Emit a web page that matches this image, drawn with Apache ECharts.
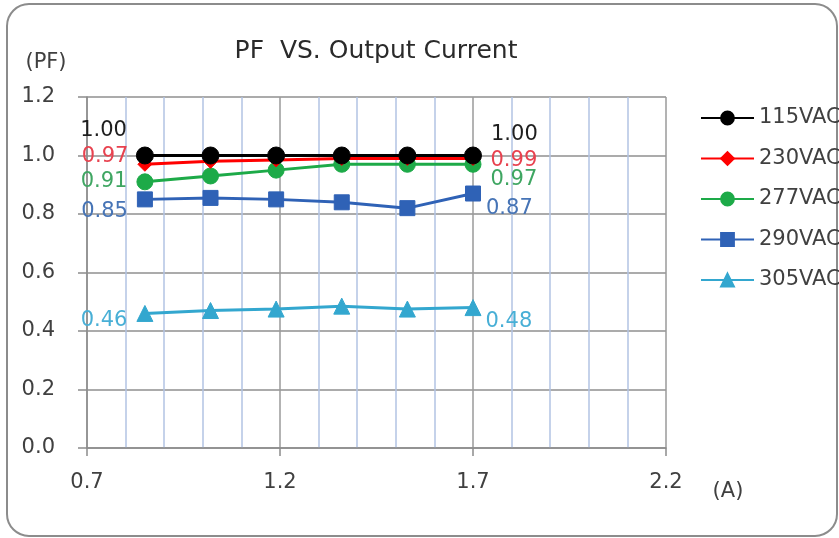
<!DOCTYPE html>
<html>
<head>
<meta charset="utf-8">
<script src="https://cdn.jsdelivr.net/npm/echarts@6/dist/echarts.min.js"></script>
<style>
html,body{margin:0;padding:0;background:#fff;}
#chart{width:839px;height:538px;}
</style>
</head>
<body>
<div id="chart"></div>
<script>
// ---- data ----
const currents = [0.85, 1.02, 1.19, 1.36, 1.53, 1.70];
const pf115 = [1.00, 1.00, 1.00, 1.00, 1.00, 1.00];
const pf230 = [0.97, 0.98, 0.985, 0.99, 0.99, 0.99];
const pf277 = [0.91, 0.93, 0.95, 0.97, 0.97, 0.97];
const pf290 = [0.85, 0.855, 0.85, 0.84, 0.82, 0.87];
const pf305 = [0.46, 0.47, 0.475, 0.485, 0.475, 0.48];
const seriesNames = ['115VAC', '230VAC', '277VAC', '290VAC', '305VAC'];
const xTicks = [0.7, 1.2, 1.7, 2.2];
const yTicks = [0.0, 0.2, 0.4, 0.6, 0.8, 1.0, 1.2];
const titleText = 'PF  VS. Output Current';
const yUnit = '(PF)';
const xUnit = '(A)';

// ---- styles ----
const FONT = 'DejaVu Sans';
const styles = [
  {values: pf115, color: '#000000', labelColor: '#1e1e1e', symbol: 'circle', size: 17, lOff: [-4, -25], rOff: [4, -21]},
  {values: pf230, color: '#ff0000', labelColor: '#e8424f', symbol: 'diamond', size: 14, lOff: [-4, -8], rOff: [5, 2]},
  {values: pf277, color: '#1daa48', labelColor: '#3fa662', symbol: 'circle', size: 16, lOff: [-4, 0], rOff: [4, 15]},
  {values: pf290, color: '#2f62b6', labelColor: '#4674b6', symbol: 'rect', size: 15, lOff: [-4, 12], rOff: [0, 15]},
  {values: pf305, color: '#33a7cf', labelColor: '#48afd6', symbol: 'triangle', size: 16, lOff: [-4, 7], rOff: [-1, 14]}
];

const series = styles.map((s, i) => {
  const n = currents.length;
  const data = currents.map((x, j) => {
    const item = {value: [x, s.values[j]]};
    if (j === 0 || j === n - 1) {
      const left = j === 0;
      item.label = {
        show: true,
        position: left ? 'left' : 'right',
        distance: 5,
        offset: left ? s.lOff : s.rOff,
        formatter: p => p.value[1].toFixed(2),
        color: s.labelColor,
        fontFamily: FONT,
        fontSize: 21
      };
    }
    return item;
  });
  return {
    name: seriesNames[i],
    type: 'line',
    data: data,
    symbol: s.symbol,
    symbolSize: s.size,
    color: s.color,
    lineStyle: {color: s.color, width: 3},
    itemStyle: {color: s.color, borderColor: s.color, borderWidth: 1},
    z: 10 - i,
    animation: false
  };
});

const chart = echarts.init(document.getElementById('chart'), null, {renderer: 'canvas'});
chart.setOption({
  backgroundColor: '#ffffff',
  animation: false,
  title: {
    text: titleText,
    left: 371,
    top: 34,
    textAlign: 'center',
    textStyle: {fontFamily: FONT, fontSize: 25, fontWeight: 'normal', color: '#2a2a2a'}
  },
  graphic: [
    {type: 'rect', silent: true, z: -1,
     shape: {x: 7, y: 4, width: 830, height: 532, r: 22},
     style: {fill: 'none', stroke: '#8c8c8c', lineWidth: 2}},
    {type: 'text', x: 46, y: 63, silent: true,
     style: {text: yUnit, fontFamily: FONT, fontSize: 21, fill: '#404040', textAlign: 'center', textVerticalAlign: 'middle'}},
    {type: 'text', x: 728, y: 492, silent: true,
     style: {text: xUnit, fontFamily: FONT, fontSize: 21, fill: '#404040', textAlign: 'center', textVerticalAlign: 'middle'}}
  ],
  legend: {
    orient: 'vertical',
    left: 695,
    top: 102,
    itemWidth: 53,
    itemHeight: 16,
    itemGap: 18.5,
    data: seriesNames,
    textStyle: {fontFamily: FONT, fontSize: 21, color: '#404040', lineHeight: 22}
  },
  grid: {left: 87, right: 173, top: 97, bottom: 90, containLabel: false},
  xAxis: {
    type: 'value',
    min: xTicks[0],
    max: xTicks[xTicks.length - 1],
    interval: xTicks[1] - xTicks[0],
    axisLine: {show: true, lineStyle: {color: '#8c8c8c', width: 1.5}},
    axisTick: {show: true, inside: false, length: 8, lineStyle: {color: '#8c8c8c', width: 1.5}},
    splitLine: {show: true, lineStyle: {color: '#9a9a9a', width: 1.5}},
    minorTick: {show: false, splitNumber: 5},
    minorSplitLine: {show: true, lineStyle: {color: '#b3c4e3', width: 1.5}},
    axisLabel: {margin: 24, fontFamily: FONT, fontSize: 21, color: '#404040',
      formatter: v => v.toFixed(1)}
  },
  yAxis: {
    type: 'value',
    min: yTicks[0],
    max: yTicks[yTicks.length - 1],
    interval: yTicks[1] - yTicks[0],
    axisLine: {show: true, lineStyle: {color: '#8c8c8c', width: 1.5}},
    axisTick: {show: true, inside: false, length: 9, lineStyle: {color: '#8c8c8c', width: 1.5}},
    splitLine: {show: true, lineStyle: {color: '#8f8f8f', width: 1.5}},
    axisLabel: {margin: 32, fontFamily: FONT, fontSize: 21, color: '#404040',
      formatter: v => v.toFixed(1)}
  },
  series: series
});
</script>
</body>
</html>
